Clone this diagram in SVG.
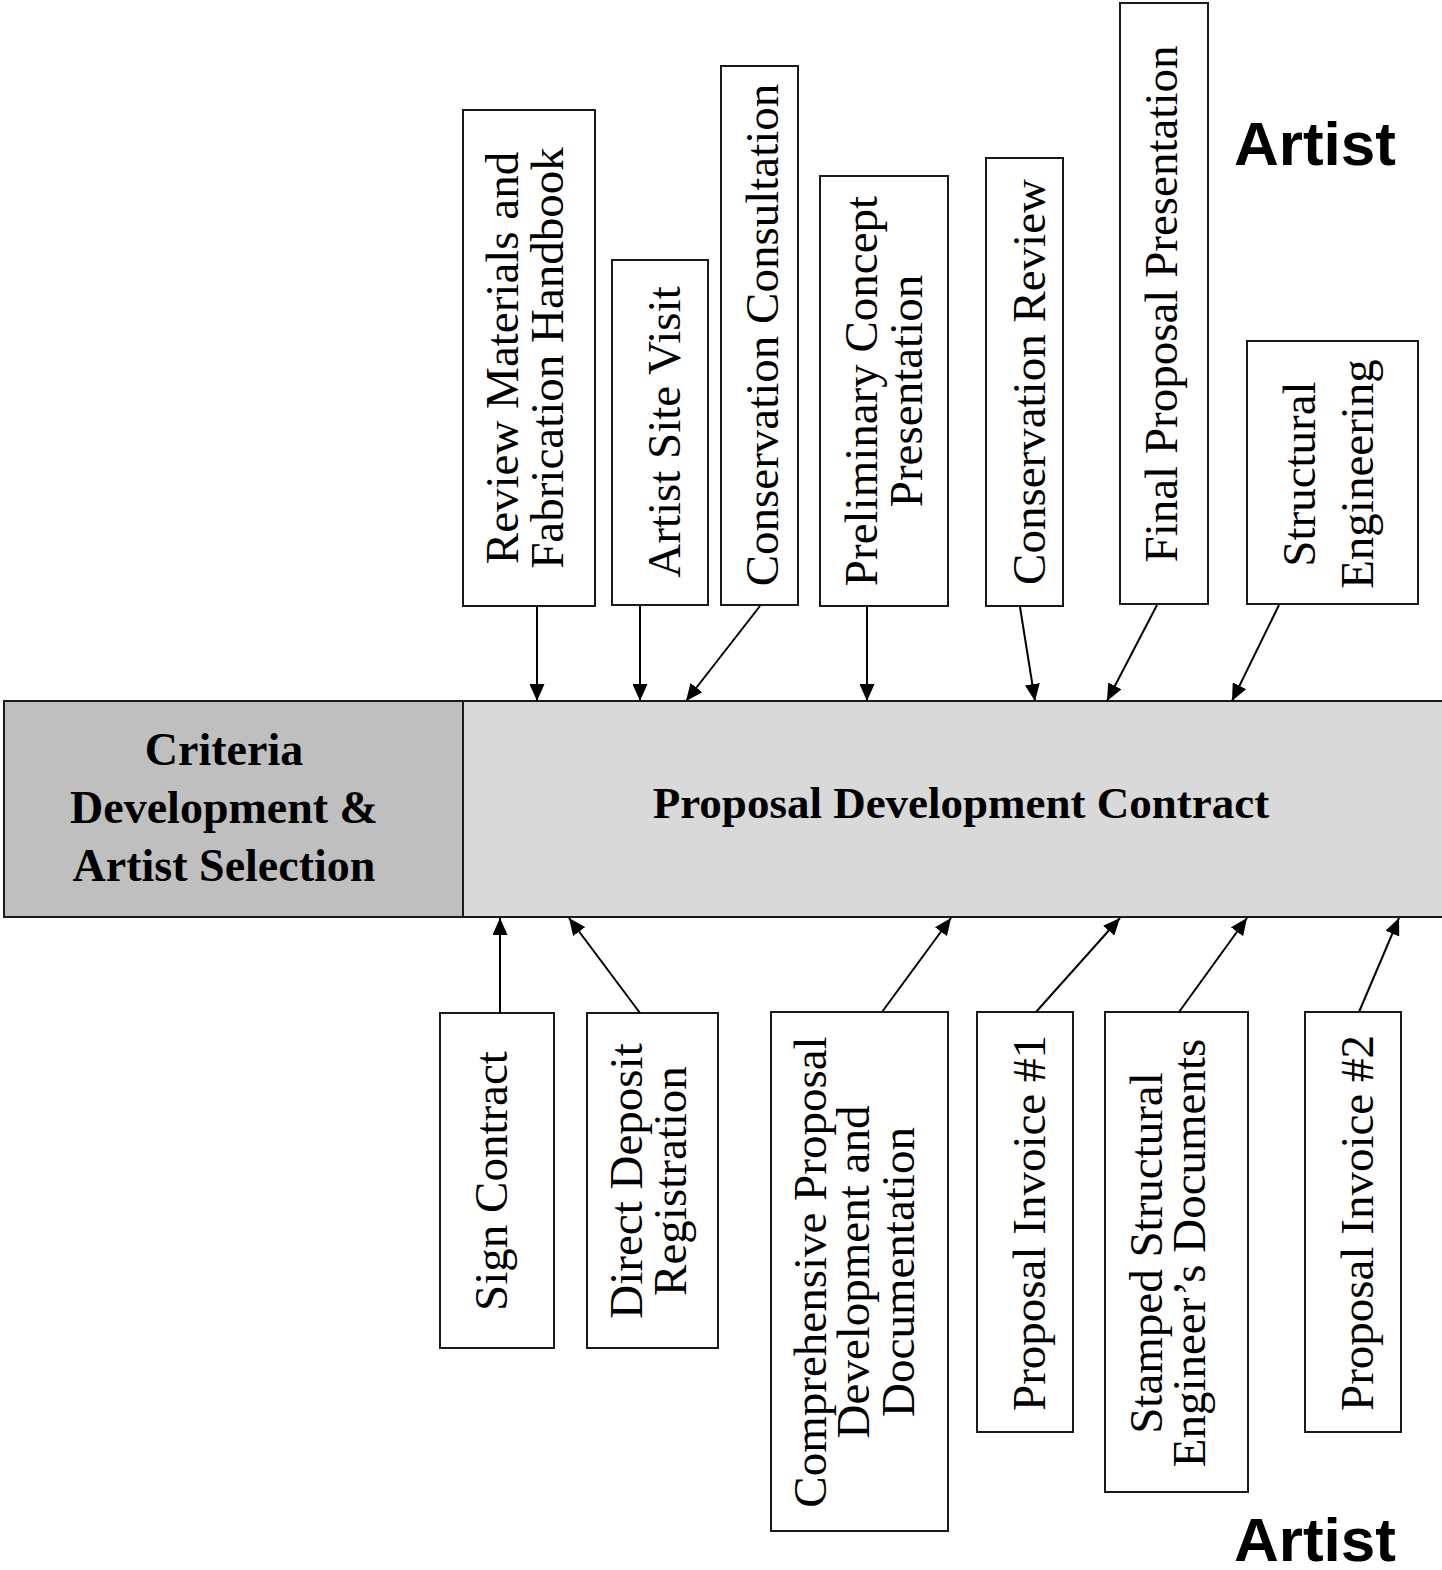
<svg xmlns="http://www.w3.org/2000/svg" width="1442" height="1570" viewBox="0 0 1442 1570">
<style>
.box{fill:#ffffff;stroke:#1a1a1a;stroke-width:2}
.t{font-family:"Liberation Serif","Times New Roman",serif;font-size:47px;fill:#000;text-anchor:middle}
.b{font-family:"Liberation Serif","Times New Roman",serif;font-size:45px;font-weight:bold;fill:#000;text-anchor:middle}
.art{font-family:"Liberation Sans",Arial,sans-serif;font-size:62px;font-weight:bold;fill:#000}
.c{stroke:#000;stroke-width:2;fill:none;marker-end:url(#ah)}
</style>
<defs>
<marker id="ah" markerUnits="userSpaceOnUse" markerWidth="17" markerHeight="15" refX="17" refY="7.5" orient="auto">
<path d="M0,0 L17,7.5 L0,15 Z" fill="#000"/>
</marker>
</defs>
<rect width="1442" height="1570" fill="#ffffff"/>

<g id="criteria">
<rect x="4" y="701" width="459" height="216" fill="#bfbfbf" stroke="#1a1a1a" stroke-width="2"/>
<text class="b" x="224" y="765" style="font-size:46px">Criteria</text>
<text class="b" x="224" y="823" style="font-size:46px">Development &amp;</text>
<text class="b" x="224" y="881" style="font-size:46px">Artist Selection</text>
</g>
<g id="proposal-contract">
<rect x="463" y="701" width="990" height="216" fill="#d9d9d9" stroke="#1a1a1a" stroke-width="2"/>
<text class="b" x="961" y="818">Proposal Development Contract</text>
</g>

<g id="review-materials">
<rect class="box" x="463" y="110" width="132" height="496"/>
<text class="t" transform="translate(518,358) rotate(-90)">Review Materials and</text>
<text class="t" transform="translate(563,358) rotate(-90)">Fabrication Handbook</text>
</g>
<g id="artist-site-visit">
<rect class="box" x="612" y="260" width="96" height="345"/>
<text class="t" transform="translate(680,432) rotate(-90)">Artist Site Visit</text>
</g>
<g id="conservation-consultation">
<rect class="box" x="721" y="66" width="77" height="539"/>
<text class="t" transform="translate(778,335) rotate(-90)">Conservation Consultation</text>
</g>
<g id="preliminary-concept">
<rect class="box" x="820" y="176" width="128" height="430"/>
<text class="t" transform="translate(877,391) rotate(-90)">Preliminary Concept</text>
<text class="t" transform="translate(922,391) rotate(-90)">Presentation</text>
</g>
<g id="conservation-review">
<rect class="box" x="986" y="158" width="77" height="448"/>
<text class="t" transform="translate(1045,382) rotate(-90)">Conservation Review</text>
</g>
<g id="final-proposal">
<rect class="box" x="1120" y="3" width="88" height="601"/>
<text class="t" transform="translate(1177,304) rotate(-90)">Final Proposal Presentation</text>
</g>
<g id="structural-engineering">
<rect class="box" x="1247" y="341" width="171" height="263"/>
<text class="t" transform="translate(1315,474) rotate(-90)">Structural</text>
<text class="t" transform="translate(1373,474) rotate(-90)">Engineering</text>
</g>

<g id="sign-contract">
<rect class="box" x="440" y="1013" width="114" height="335"/>
<text class="t" transform="translate(507,1181) rotate(-90)">Sign Contract</text>
</g>
<g id="direct-deposit">
<rect class="box" x="587" y="1013" width="131" height="335"/>
<text class="t" transform="translate(642,1181) rotate(-90)">Direct Deposit</text>
<text class="t" transform="translate(686,1181) rotate(-90)">Registration</text>
</g>
<g id="comprehensive-proposal">
<rect class="box" x="771" y="1012" width="177" height="519"/>
<text class="t" transform="translate(826,1272) rotate(-90)">Comprehensive Proposal</text>
<text class="t" transform="translate(869,1272) rotate(-90)">Development and</text>
<text class="t" transform="translate(914,1272) rotate(-90)">Documentation</text>
</g>
<g id="proposal-invoice-1">
<rect class="box" x="977" y="1012" width="96" height="420"/>
<text class="t" transform="translate(1045,1223) rotate(-90)">Proposal Invoice #1</text>
</g>
<g id="stamped-documents">
<rect class="box" x="1105" y="1012" width="143" height="480"/>
<text class="t" transform="translate(1162,1253) rotate(-90)">Stamped Structural</text>
<text class="t" transform="translate(1205,1253) rotate(-90)">Engineer’s Documents</text>
</g>
<g id="proposal-invoice-2">
<rect class="box" x="1305" y="1012" width="96" height="420"/>
<text class="t" transform="translate(1373,1223) rotate(-90)">Proposal Invoice #2</text>
</g>

<g id="artist-top"><text class="art" x="1234" y="165">Artist</text></g>
<g id="artist-bottom"><text class="art" x="1234" y="1561">Artist</text></g>

<g id="connectors">
<line class="c" x1="537" y1="607" x2="537" y2="701"/>
<line class="c" x1="640" y1="606" x2="640" y2="701"/>
<line class="c" x1="760" y1="606" x2="686" y2="701"/>
<line class="c" x1="867" y1="607" x2="867" y2="701"/>
<line class="c" x1="1020" y1="607" x2="1035" y2="701"/>
<line class="c" x1="1157" y1="605" x2="1107" y2="701"/>
<line class="c" x1="1279" y1="605" x2="1232" y2="701"/>
<line class="c" x1="500" y1="1013" x2="500" y2="918"/>
<line class="c" x1="640" y1="1013" x2="569" y2="918"/>
<line class="c" x1="882" y1="1012" x2="951" y2="918"/>
<line class="c" x1="1036" y1="1012" x2="1120" y2="918"/>
<line class="c" x1="1179" y1="1012" x2="1247" y2="918"/>
<line class="c" x1="1359" y1="1012" x2="1399" y2="918"/>
</g>
</svg>
